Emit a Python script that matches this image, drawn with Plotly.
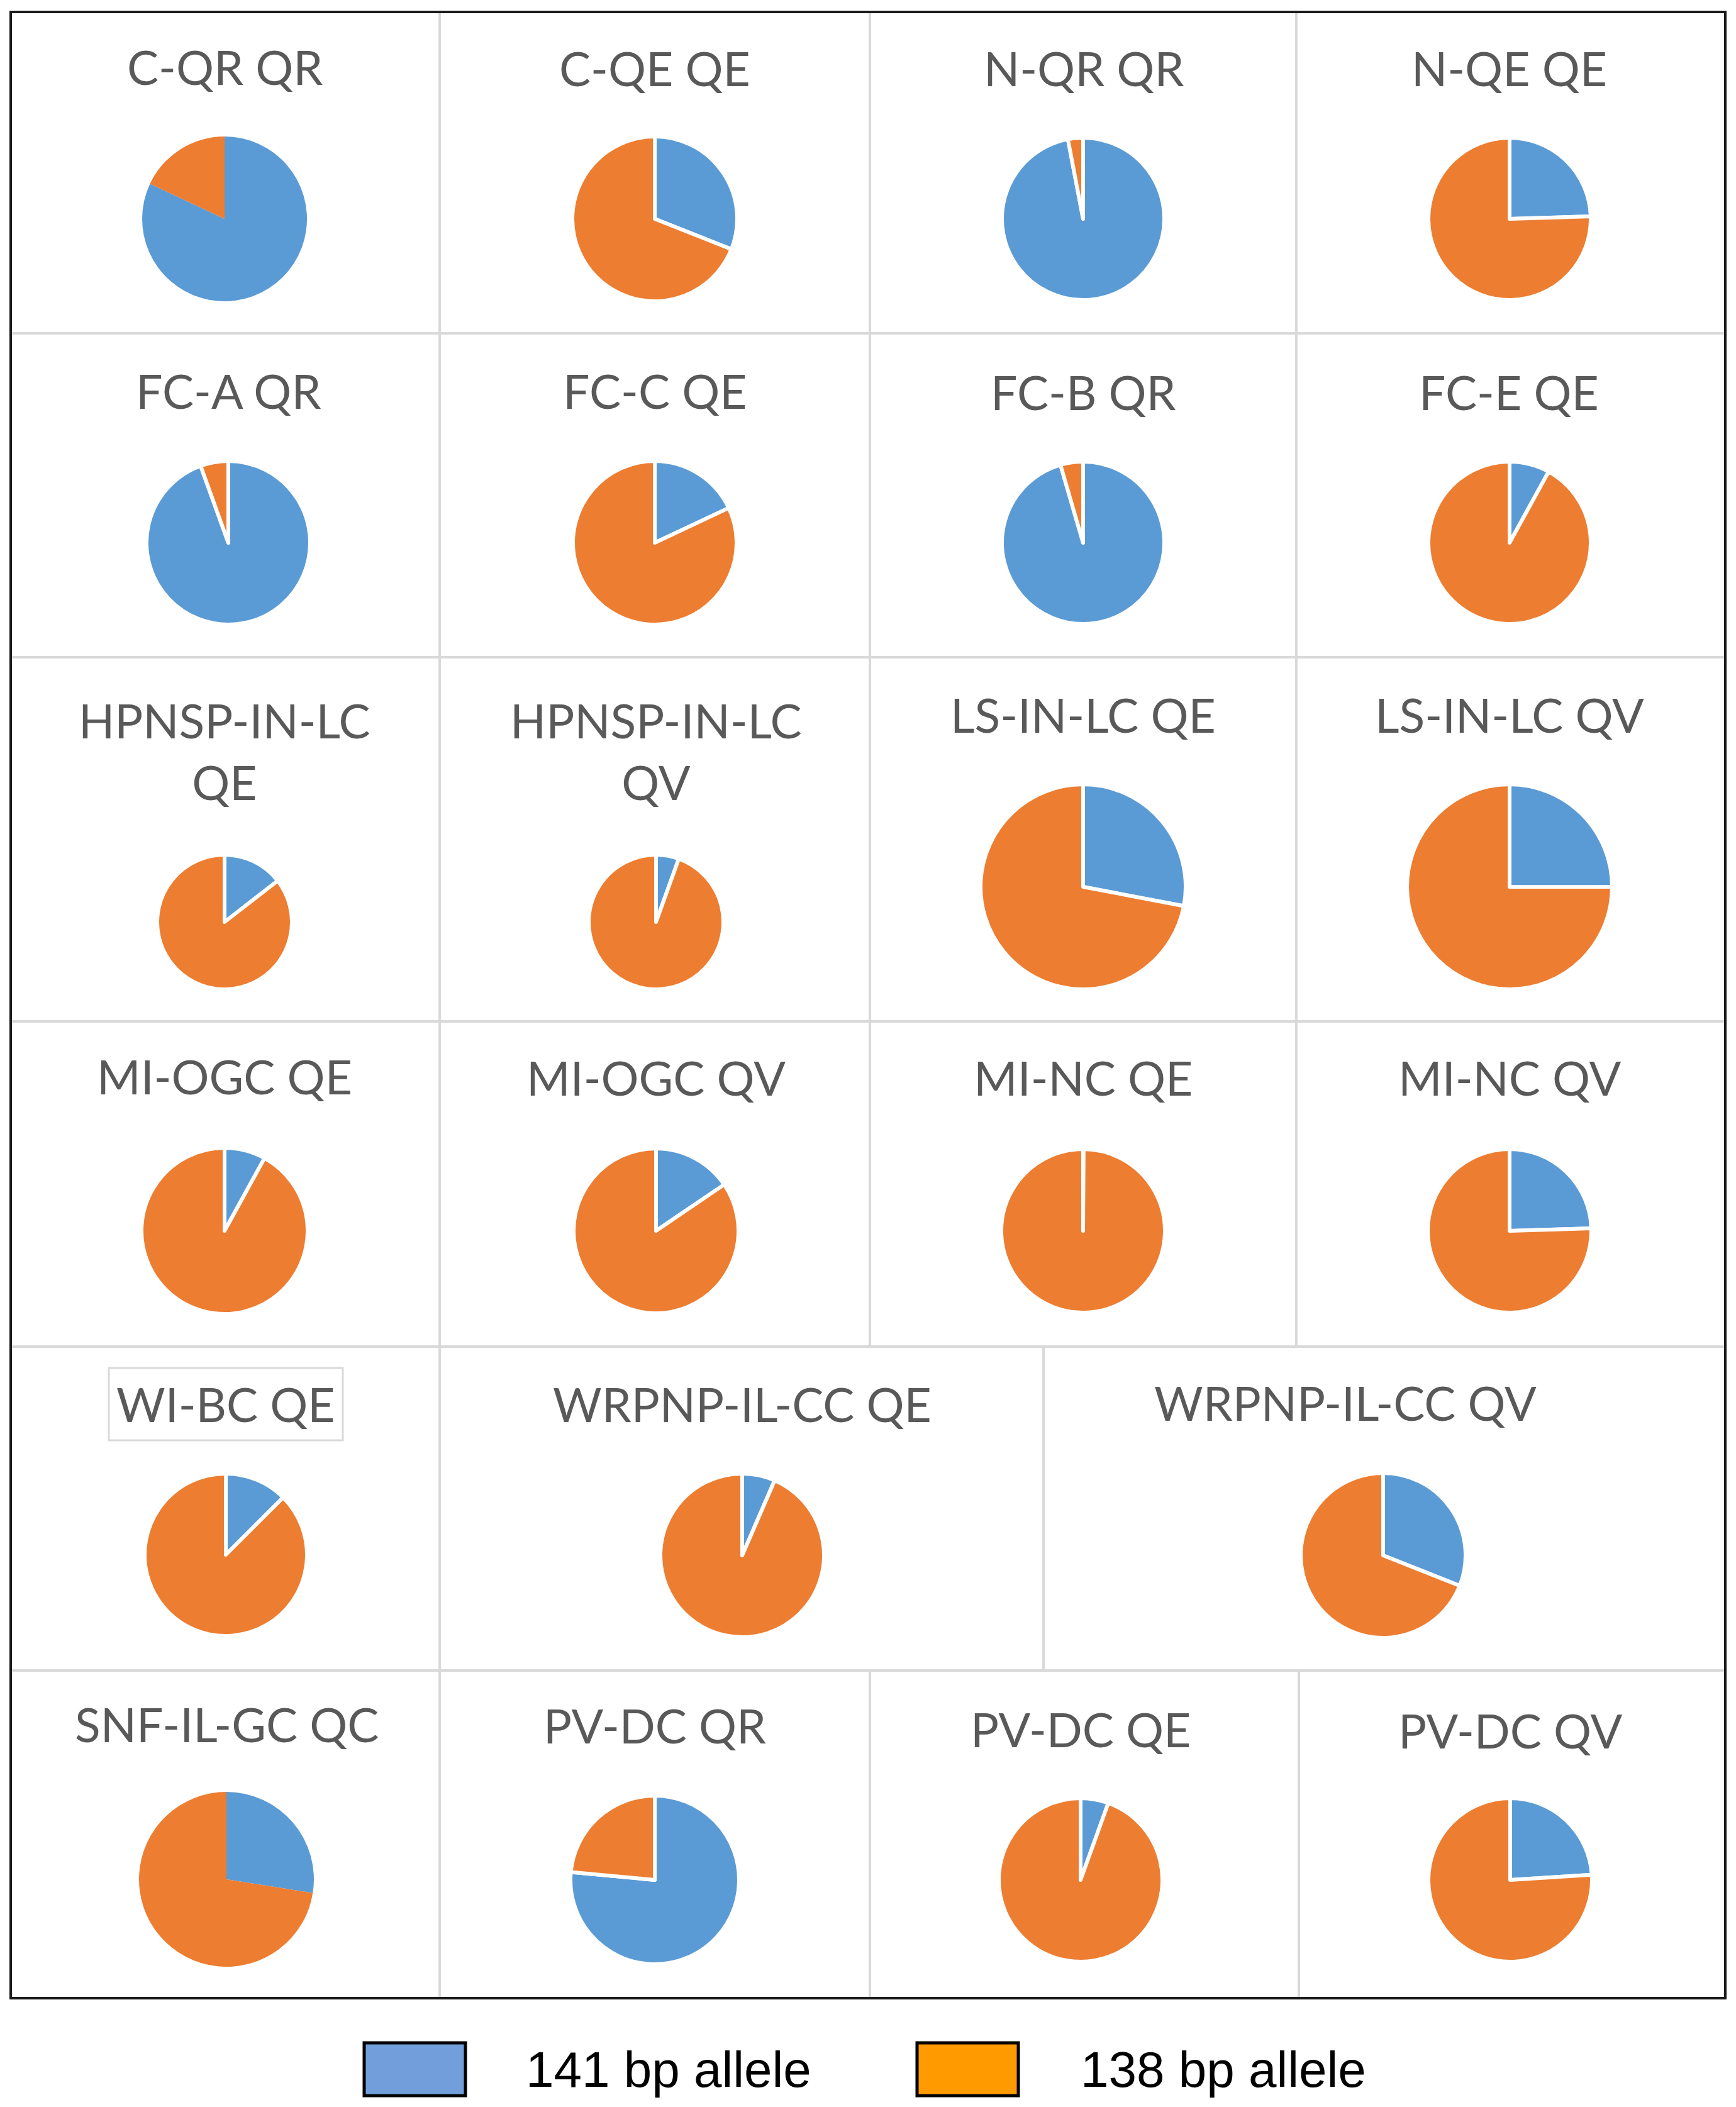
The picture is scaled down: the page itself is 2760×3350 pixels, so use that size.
import plotly.graph_objects as go

# ---- data (percent of each allele per population) ----
titles = [
    "C-QR QR", "C-QE QE", "N-QR QR", "N-QE QE",
    "FC-A QR", "FC-C QE", "FC-B QR", "FC-E QE",
    "HPNSP-IN-LC<br>QE", "HPNSP-IN-LC<br>QV", "LS-IN-LC QE", "LS-IN-LC QV",
    "MI-OGC QE", "MI-OGC QV", "MI-NC QE", "MI-NC QV",
    "WI-BC QE", "WRPNP-IL-CC QE", "WRPNP-IL-CC QV",
    "SNF-IL-GC QC", "PV-DC QR", "PV-DC QE", "PV-DC QV",
]
allele_141 = [82, 31, 97, 24.5,
              94.5, 18, 95.5, 8,
              14.5, 5.5, 28, 25,
              8, 15.5, 0.1, 24.5,
              12.5, 6.5, 31,
              27.5, 76.5, 5.5, 24]
allele_138 = [18, 69, 3, 75.5,
              5.5, 82, 4.5, 92,
              85.5, 94.5, 72, 75,
              92, 84.5, 99.9, 75.5,
              87.5, 93.5, 69,
              72.5, 23.5, 94.5, 76]
legend_labels = ["141 bp allele", "138 bp allele"]

# ---- layout (pixel positions in the 2760 x 3350 page) ----
PAGE_W, PAGE_H = 2760, 3350
OFF = 8                       # default body margin of the html page
W, H = PAGE_W - 2 * OFF, PAGE_H - 2 * OFF

# pie centre x, centre y, radius
pie_pos = [
    (357, 348, 131), (1041, 348, 131), (1722, 348, 129), (2400, 348, 129),
    (363, 863, 130), (1041, 863, 130), (1722, 863, 129), (2400, 863, 129),
    (357, 1466, 107), (1043, 1466, 107), (1722, 1410, 163), (2400, 1410, 163),
    (357, 1957, 132), (1043, 1957, 131), (1722, 1957, 130), (2400, 1957, 130),
    (359, 2472, 129), (1180, 2473, 130), (2199, 2473, 131),
    (360, 2988, 139), (1041, 2989, 134), (1718, 2989, 130), (2401, 2989, 130),
]
# title centre x, centre y
title_pos = [
    (357, 106), (1041, 108), (1723, 108), (2399, 108),
    (363, 621), (1041, 621), (1722, 623), (2399, 623),
    (357, 1194), (1043, 1194), (1722, 1136), (2400, 1136),
    (357, 1711), (1043, 1713), (1722, 1713), (2400, 1713),
    (359, 2232), (1180, 2232), (2139, 2230),
    (360, 2741), (1041, 2743), (1718, 2749), (2401, 2751),
]
no_edge = {"C-QR QR", "SNF-IL-GC QC"}

# cell boxes: x0, y0, x1, y1
cols4 = [17, 699, 1383, 2061, 2743]
rows = [19, 530, 1045, 1624, 2141, 2656, 3177]
cells = []
for r in range(4):
    for c in range(4):
        cells.append((cols4[c], rows[r], cols4[c + 1], rows[r + 1]))
for x0, x1 in [(17, 699), (699, 1659), (1659, 2743)]:
    cells.append((x0, rows[4], x1, rows[5]))
for x0, x1 in [(17, 699), (699, 1383), (1383, 2065), (2065, 2743)]:
    cells.append((x0, rows[5], x1, rows[6]))

BLUE, ORANGE = "#5B9BD5", "#ED7D31"


def px(x):
    return (x - OFF) / W


def py(y):
    return 1 - (y - OFF) / H


fig = go.Figure()
shapes = []
annotations = []

for x0, y0, x1, y1 in cells:
    shapes.append(dict(type="rect", xref="paper", yref="paper",
                       x0=px(x0), x1=px(x1), y0=py(y1), y1=py(y0),
                       line=dict(color="#D9D9D9", width=4), layer="below"))

for i, t in enumerate(titles):
    cx, cy, r = pie_pos[i]
    fig.add_trace(go.Pie(
        labels=legend_labels,
        values=[allele_141[i], allele_138[i]],
        sort=False, direction="clockwise", rotation=0,
        marker=dict(colors=[BLUE, ORANGE],
                    line=dict(color="white", width=0 if t in no_edge else 6)),
        textinfo="none", hoverinfo="label+percent",
        showlegend=False,
        domain=dict(x=[px(cx - r), px(cx + r)], y=[py(cy + r), py(cy - r)]),
    ))
    tx, ty = title_pos[i]
    annotations.append(dict(
        text=t, x=px(tx), y=py(ty), xref="paper", yref="paper",
        xanchor="center", yanchor="middle", showarrow=False,
        font=dict(family="Lato", size=75, color="#595959"),
    ))

# thin box around the WI-BC QE title
shapes.append(dict(type="rect", xref="paper", yref="paper",
                   x0=px(173), x1=px(545), y0=py(2290), y1=py(2175),
                   line=dict(color="#D9D9D9", width=3)))

# outer frame
shapes.append(dict(type="rect", xref="paper", yref="paper",
                   x0=px(17), x1=px(2743), y0=py(3177), y1=py(19),
                   line=dict(color="#1A1A1A", width=4)))

# legend drawn by hand (its colours differ from the slices)
legend_fill = ["#729FDC", "#FF9A00"]
legend_box_x = [579, 1458]
legend_text_x = [834, 1716]
for k in range(2):
    shapes.append(dict(type="rect", xref="paper", yref="paper",
                       x0=px(legend_box_x[k]), x1=px(legend_box_x[k] + 161),
                       y0=py(3332), y1=py(3248),
                       fillcolor=legend_fill[k],
                       line=dict(color="black", width=5)))
    annotations.append(dict(
        text=legend_labels[k], x=px(legend_text_x[k]), y=py(3290),
        xref="paper", yref="paper", xanchor="left", yanchor="middle",
        showarrow=False,
        font=dict(family="Liberation Sans", size=80, color="black"),
    ))

fig.update_layout(
    width=W, height=H,
    margin=dict(l=0, r=0, t=0, b=0),
    paper_bgcolor="white", plot_bgcolor="white",
    shapes=shapes, annotations=annotations,
)

fig.write_html("out.html")
